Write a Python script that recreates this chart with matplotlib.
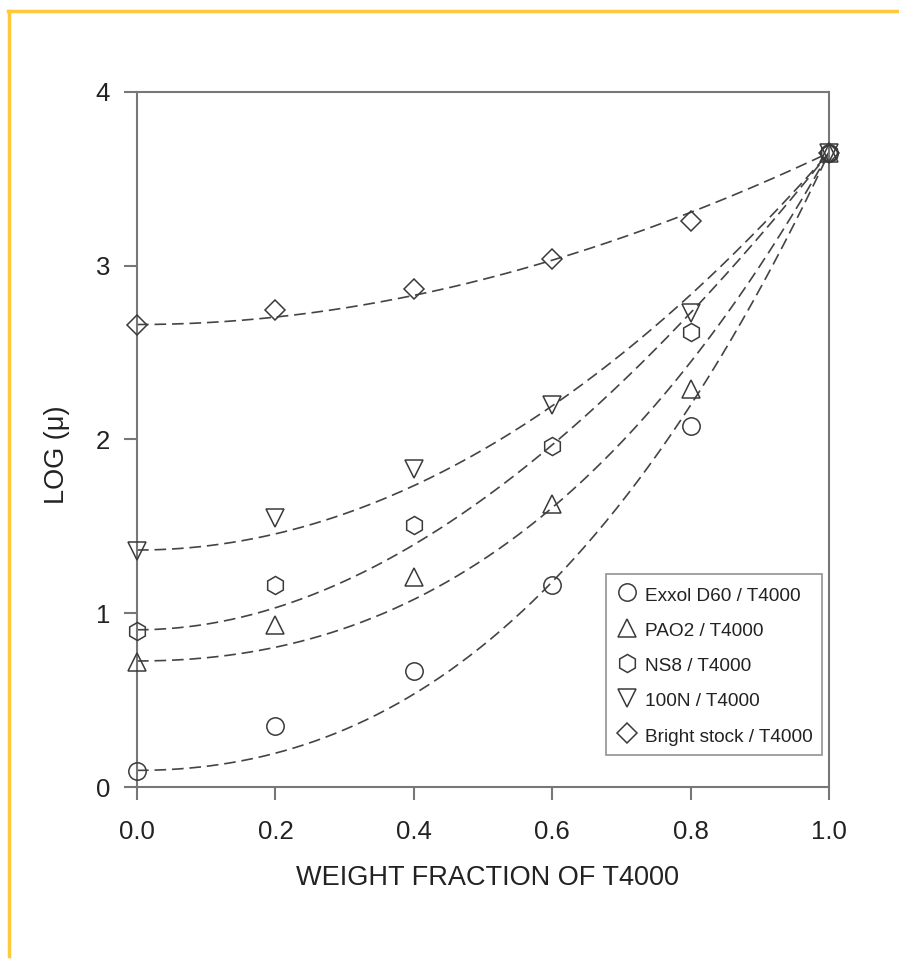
import numpy as np
import matplotlib.pyplot as plt
from matplotlib.lines import Line2D

plt.rcParams['font.family'] = ['Liberation Sans', 'DejaVu Sans']

# weight fraction of T4000
wf = [0.0, 0.2, 0.4, 0.6, 0.8, 1.0]

# log viscosity of each blend
exxol = [0.09, 0.35, 0.67, 1.16, 2.08, 3.65]
pao2 = [0.72, 0.93, 1.21, 1.63, 2.29, 3.65]
ns8 = [0.90, 1.16, 1.51, 1.96, 2.62, 3.65]
n100 = [1.36, 1.55, 1.83, 2.20, 2.73, 3.65]
bright = [2.66, 2.745, 2.866, 3.04, 3.26, 3.65]

series = [
    ('Exxol D60 / T4000', exxol, 'o', 12.5),
    ('PAO2 / T4000', pao2, '^', 13),
    ('NS8 / T4000', ns8, 'h', 13),
    ('100N / T4000', n100, 'v', 13),
    ('Bright stock / T4000', bright, 'D', 10),
]

fig = plt.figure(figsize=(8.99, 9.64), dpi=100)
ax = fig.add_axes([0.1524, 0.1836, 0.7697, 0.7210])

edge = '#3a3a3a'
xs = np.linspace(0, 1, 200)
handles = []
for label, y, mk, ms in series:
    # fit a + b*x^2 + c*x^3 (flat at x=0), pinned at pure T4000
    x = np.array(wf)
    A = np.column_stack([np.ones_like(x), x ** 2, x ** 3])
    w = np.ones(len(x))
    w[0] = 6
    w[-1] = 50
    coef = np.linalg.lstsq(A * w[:, None], np.array(y) * w, rcond=None)[0]
    fit = coef[0] + coef[1] * xs ** 2 + coef[2] * xs ** 3
    ax.plot(xs, fit, color='#444444', lw=1.2, dashes=(7, 3.5), zorder=2)
    ax.plot(wf, y, linestyle='none', marker=mk, ms=ms, mfc='none',
            mec=edge, mew=1.1, zorder=3, clip_on=False)
    handles.append(Line2D([], [], linestyle='none', marker=mk, ms=ms,
                          mfc='none', mec=edge, mew=1.1, label=label))

ax.set_xlim(0, 1)
ax.set_ylim(0, 4)
ax.set_xticks([0.0, 0.2, 0.4, 0.6, 0.8, 1.0])
ax.set_xticklabels(['0.0', '0.2', '0.4', '0.6', '0.8', '1.0'])
ax.set_yticks([0, 1, 2, 3, 4])
for s in ax.spines.values():
    s.set_color('#777777')
    s.set_linewidth(1.5)
ax.tick_params(direction='out', length=9.5, width=1.5, color='#777777',
               labelsize=18.5, labelcolor='#222222')
ax.tick_params(axis='x', pad=14)
ax.tick_params(axis='y', pad=10)
ax.set_xlabel('WEIGHT FRACTION OF T4000', fontsize=19.5, color='#222222')
ax.set_ylabel('LOG (\u03bc)', fontsize=19.5, color='#222222')
ax.xaxis.set_label_coords(0.506, -0.112)
ax.yaxis.set_label_coords(-0.097, 0.478)

leg = ax.legend(handles=handles, loc='lower right',
                bbox_to_anchor=(0.99, 0.046), borderaxespad=0, fontsize=13.7,
                frameon=True, fancybox=False, edgecolor='#777777',
                handletextpad=0.33, labelspacing=0.76, borderpad=0.5,
                handlelength=1.2, handleheight=1.3)
leg.get_frame().set_linewidth(1.2)
for t in leg.get_texts():
    t.set_color('#222222')

# yellow frame at top and left
fig.add_artist(Line2D([0.009, 1.0], [0.9886, 0.9886], color='#ffc93c',
                      lw=2.5, transform=fig.transFigure))
fig.add_artist(Line2D([0.0100, 0.0100], [0.9886, 0.008], color='#ffc93c',
                      lw=2.5, transform=fig.transFigure))

fig.savefig('out.png', dpi=100)
